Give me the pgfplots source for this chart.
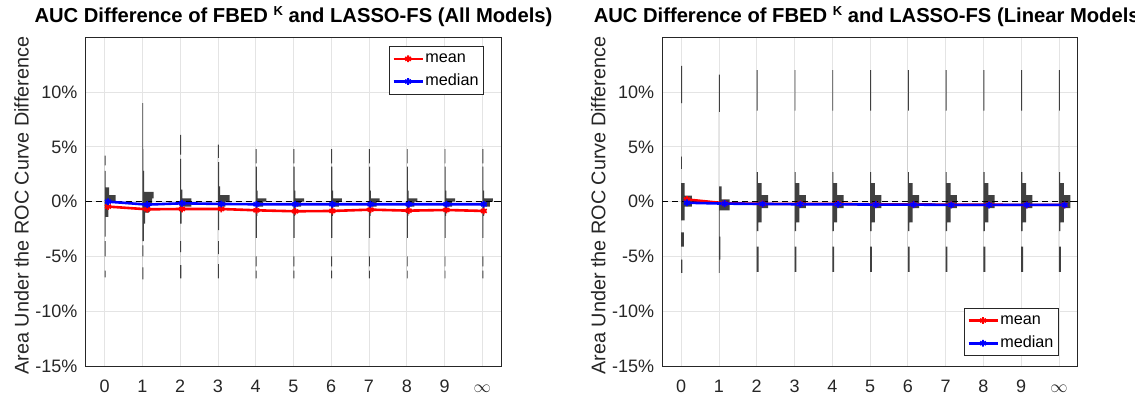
\documentclass[border=0pt]{standalone}
\usepackage{fontspec}
\setmainfont{Liberation Sans}
\usepackage{pgfplots}
\usepackage{pgfplotstable}
\pgfplotsset{compat=1.18}
\definecolor{histc}{RGB}{64,64,64}
\definecolor{gridc}{RGB}{228,228,228}
\definecolor{axc}{RGB}{38,38,38}

% histogram outlines: w = bar length to the right of the category, y = bin edge (%)
\pgfplotstableread{
w y
0 -6.9
0.03 -6.9
0.03 -6.3
0 -6.3
0 -5.0
0.025 -5.0
0.025 -3.6
0 -3.6
0 -3.2
0.03 -3.2
0.03 -1.4
0.1 -1.4
0.1 -0.6
0.12 -0.6
0.12 0
0.29 0
0.29 0.6
0.12 0.6
0.12 1.3
0.03 1.3
0.03 2.8
0 2.8
0 3.3
0.025 3.3
0.025 4.2
0 4.2
}\histLzero
\pgfplotstableread{
w y
0 -7.1
0.03 -7.1
0.03 -6.0
0 -6.0
0 -5.0
0.025 -5.0
0.025 -4.0
0 -4.0
0 -3.6
0.04 -3.6
0.04 -2.0
0.07 -2.0
0.07 -1.0
0.18 -1.0
0.18 -0.3
0.26 -0.3
0.26 0.3
0.3 0.3
0.3 0.9
0.05 0.9
0.05 2.8
0.03 2.8
0.03 4.8
0.02 4.8
0.02 9.0
0 9.0
}\histLone
\pgfplotstableread{
w y
0 -7.0
0.03 -7.0
0.03 -5.8
0 -5.8
0 -4.6
0.025 -4.6
0.025 -3.6
0 -3.6
0 -2.0
0.04 -2.0
0.04 -0.45
0.3 -0.45
0.3 0.3
0.06 0.3
0.06 1.1
0.025 1.1
0.025 3.9
0 3.9
0 4.3
0.025 4.3
0.025 6.1
0 6.1
}\histLtwo
\pgfplotstableread{
w y
0 -7.0
0.025 -7.0
0.025 -5.7
0 -5.7
0 -4.8
0.025 -4.8
0.025 -3.6
0 -3.6
0 -2.6
0.035 -2.6
0.035 -0.45
0.2 -0.45
0.2 0
0.31 0
0.31 0.6
0.06 0.6
0.06 1.4
0.03 1.4
0.03 3.6
0 3.6
0 4.0
0.025 4.0
0.025 5.2
0 5.2
}\histLthree
\pgfplotstableread{
w y
0 -7.0
0.025 -7.0
0.025 -6.3
0 -6.3
0 -5.9
0.025 -5.9
0.025 -5.0
0 -5.0
0 -3.3
0.03 -3.3
0.03 -1.3
0.045 -1.3
0.045 -0.45
0.2 -0.45
0.2 0
0.28 0
0.28 0.3
0.05 0.3
0.05 1.0
0.03 1.0
0.03 3.2
0 3.2
0 3.5
0.025 3.5
0.025 4.8
0 4.8
}\histLrest
\pgfplotstableread{
w y
0 -6.5
0.03 -6.5
0.03 -5.3
0 -5.3
0 -4.1
0.07 -4.1
0.07 -2.8
0 -2.8
0 -1.7
0.09 -1.7
0.09 -0.45
0.28 -0.45
0.28 0.55
0.09 0.55
0.09 1.7
0 1.7
0 3.0
0.02 3.0
0.02 4.1
0 4.1
0 9.0
0.025 9.0
0.025 12.4
0 12.4
}\histRzero
\pgfplotstableread{
w y
0 -6.5
0.02 -6.5
0.02 -5.3
0.035 -5.3
0.035 -3.2
0.02 -3.2
0.02 -0.8
0.28 -0.8
0.28 0.2
0.07 0.2
0.07 1.4
0 1.4
0 8.2
0.025 8.2
0.025 11.6
0 11.6
}\histRone
\pgfplotstableread{
w y
0 -6.4
0.05 -6.4
0.05 -4.1
0 -4.1
0 -2.7
0.04 -2.7
0.04 -1.9
0.13 -1.9
0.13 -0.6
0.3 -0.6
0.3 0.6
0.13 0.6
0.13 1.7
0.03 1.7
0.03 2.7
0 2.7
0 8.3
0.025 8.3
0.025 12.0
0 12.0
}\histRrest

\newcommand{\hist}[2]{\addplot[fill=histc, draw=none, forget plot] table[x expr=\thisrow{w}+#1, y=y] {#2};}

\pgfplotsset{
 distax/.style={
  scale only axis, width=415.5pt, height=328.7pt,
  xmin=-0.5, xmax=10.5, ymin=-15, ymax=15,
  xtick={0,...,10}, xticklabels={0,1,2,3,4,5,6,7,8,9,$\infty$},
  ytick={-15,-10,...,10}, yticklabels={-15\%,-10\%,-5\%,0\%,5\%,10\%},
  grid=major, grid style={draw=gridc, line width=0.8pt},
  axis line style={draw=axc, line width=0.8pt},
  major tick length=0pt,
  tick label style={font=\fontsize{18}{21}\selectfont, text=axc},
  xticklabel style={anchor=base, yshift=-26pt},
  yticklabel style={anchor=east, inner sep=0pt, xshift=-8pt},
  ylabel={Area Under the ROC Curve Difference},
  ylabel style={at={(axis description cs:-0.1372,0.488)}, anchor=base, font=\fontsize{19.8}{22}\selectfont, text=axc},
  title style={at={(axis description cs:0.5,1)}, anchor=base, yshift=9.3pt, font=\bfseries\fontsize{20.2}{22}\selectfont},
  legend style={font=\fontsize{16.2}{18}\selectfont, draw=axc, line width=0.6pt, fill=white,
    inner xsep=3pt, inner ysep=3.5pt, row sep=4.7pt,
    nodes={inner sep=1.5pt, text height=11.5pt, text depth=3.5pt}},
  legend cell align=left,
  legend image code/.code={\draw[mark repeat=2, mark phase=2, #1] plot coordinates {(0pt,0pt) (14.5pt,0pt) (29pt,0pt)};},
 },
 meanst/.style={red, line width=2.6pt, mark=asterisk, mark size=3.4pt, mark options={solid, line width=1.8pt}},
 medst/.style={blue, line width=2.6pt, mark=asterisk, mark size=3.4pt, mark options={solid, line width=1.8pt}},
}

\begin{document}
\begin{tikzpicture}
\useasboundingbox (0,0) rectangle (1135pt,394pt);
\clip (0,0) rectangle (1135pt,394pt);

\begin{axis}[distax, at={(85.7pt,28pt)}, anchor=south west,
  title={AUC Difference of FBED \raisebox{7pt}{\fontsize{13}{13}\selectfont K} and LASSO-FS (All Models)},
  legend style={at={(0.957,0.9735)}, anchor=north east}]
\hist{0}{\histLzero}
\hist{1}{\histLone}
\hist{2}{\histLtwo}
\hist{3}{\histLthree}
\hist{4}{\histLrest}
\hist{5}{\histLrest}
\hist{6}{\histLrest}
\hist{7}{\histLrest}
\hist{8}{\histLrest}
\hist{9}{\histLrest}
\hist{10}{\histLrest}
\addplot[black, line width=1pt, dash pattern=on 6pt off 4pt, forget plot] coordinates {(-0.5,0) (10.5,0)};
\addplot[black, line width=1pt, forget plot] coordinates {(10.3,0) (10.5,0)};
\addplot[meanst] coordinates {(0.09,-0.45) (1.13,-0.7) (2.05,-0.67) (3.09,-0.67) (4.02,-0.79) (5.05,-0.88) (6.03,-0.85) (7.04,-0.73) (8.05,-0.82) (9.05,-0.76) (10.04,-0.85)};
\addlegendentry{mean}
\addplot[medst] coordinates {(0.09,0) (1.13,-0.27) (2.05,-0.15) (3.09,-0.21) (4.02,-0.24) (5.05,-0.24) (6.03,-0.24) (7.04,-0.24) (8.05,-0.24) (9.05,-0.24) (10.04,-0.24)};
\addlegendentry{median}
\end{axis}

\begin{axis}[distax, at={(662.3pt,28pt)}, anchor=south west,
  title={AUC Difference of FBED \raisebox{7pt}{\fontsize{13}{13}\selectfont K} and LASSO-FS (Linear Models)},
  legend style={at={(0.953,0.0304)}, anchor=south east}]
\hist{0}{\histRzero}
\hist{1}{\histRone}
\hist{2}{\histRrest}
\hist{3}{\histRrest}
\hist{4}{\histRrest}
\hist{5}{\histRrest}
\hist{6}{\histRrest}
\hist{7}{\histRrest}
\hist{8}{\histRrest}
\hist{9}{\histRrest}
\hist{10}{\histRrest}
\addplot[black, line width=1pt, dash pattern=on 6pt off 4pt, forget plot] coordinates {(-0.5,0) (10.5,0)};
\addplot[black, line width=1pt, forget plot] coordinates {(10.3,0) (10.5,0)};
\addplot[meanst] coordinates {(0.15,0.2) (1.15,-0.15) (2.15,-0.2) (3.15,-0.2) (4.15,-0.2) (5.15,-0.25) (6.15,-0.25) (7.15,-0.28) (8.15,-0.28) (9.15,-0.3) (10.15,-0.3)};
\addlegendentry{mean}
\addplot[medst] coordinates {(0.15,-0.1) (1.15,-0.18) (2.15,-0.21) (3.15,-0.24) (4.15,-0.24) (5.15,-0.27) (6.15,-0.27) (7.15,-0.3) (8.15,-0.3) (9.15,-0.3) (10.15,-0.3)};
\addlegendentry{median}
\end{axis}
\end{tikzpicture}
\end{document}
